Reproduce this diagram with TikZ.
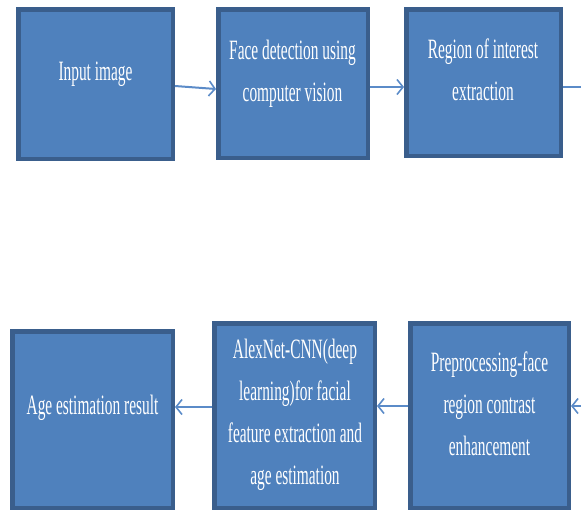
\documentclass[tikz,border=0pt]{standalone}
\usepackage{fontspec}
\newfontfamily\boxfont[FakeStretch=0.55]{Liberation Serif}
\usetikzlibrary{arrows.meta,calc}
\definecolor{boxfill}{HTML}{4F81BD}
\definecolor{boxedge}{HTML}{3A5E8C}
\definecolor{arrowcol}{HTML}{5B8BC8}
\tikzset{
  stagebox/.style={draw=boxedge, fill=boxfill, line width=4.5pt, inner sep=0pt},
  stagetext/.style={text=white, align=center, inner sep=0pt, font=\boxfont\fontsize{28}{42}\selectfont},
  flow/.style={draw=arrowcol, line width=2pt, -{Straight Barb[length=6pt,width=15pt,line width=1.6pt]}},
  flowplain/.style={draw=arrowcol, line width=2pt}
}
\begin{document}
\begin{tikzpicture}[x=1pt,y=-1pt]
\useasboundingbox (0,0) rectangle (581,512);
% boxes (outer size minus line width)
\node[stagebox, minimum width=154.5pt, minimum height=149.5pt] (b1) at (95.5,84) {};
\node[stagebox, minimum width=149.5pt, minimum height=148.5pt] (b2) at (293,83.5) {};
\node[stagebox, minimum width=154.5pt, minimum height=146.5pt] (b3) at (483.5,82.5) {};
\node[stagebox, minimum width=158.5pt, minimum height=184.5pt] (b4) at (489.5,415.5) {};
\node[stagebox, minimum width=160.5pt, minimum height=184.5pt] (b5) at (294.5,415.5) {};
\node[stagebox, minimum width=160.5pt, minimum height=176.5pt] (b6) at (92.5,419.5) {};
% texts
\node[stagetext] (t1) at (95.5,74) {Input image};
\node[stagetext] (t2) at (292.5,74) {Face detection using\\computer vision};
\node[stagetext] (t3) at (483,70) {Region of interest\\extraction};
\node[stagetext] (t4) at (489.5,404) {Preprocessing-face\\region contrast\\enhancement};
\node[stagetext] (t5) at (295,415) {AlexNet-CNN(deep\\learning)for facial\\feature extraction and\\age estimation};
\node[stagetext] (t6) at (92.5,408) {Age estimation result};
% connectors
\coordinate (outR) at (581,87);
\coordinate (inR) at (581,406);
\draw[flow] ($(b1.east)+(0,2)$) -- ($(b2.west)+(0,5.5)$);
\draw[flow] ($(b2.east)+(0,3.5)$) -- ($(b3.west)+(0,4.5)$);
\draw[flowplain] ($(b3.east)+(0,4.5)$) -- (outR);
\draw[flow] (inR) -- ($(b4.east)+(0,-9.5)$);
\draw[flow] ($(b4.west)+(0,-9.5)$) -- ($(b5.east)+(0,-9.5)$);
\draw[flow] ($(b5.west)+(0,-8.5)$) -- ($(b6.east)+(0,-12.5)$);
\end{tikzpicture}
\end{document}
